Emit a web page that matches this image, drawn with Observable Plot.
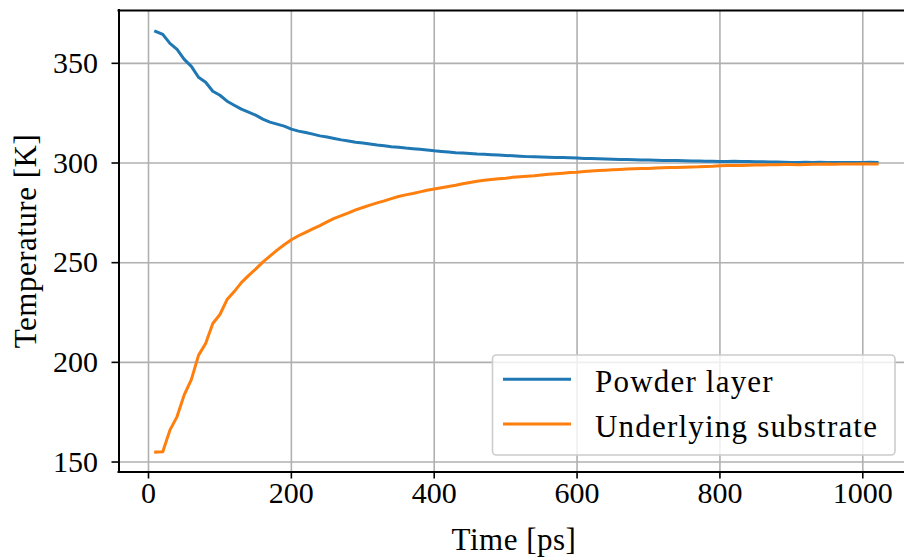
<!DOCTYPE html>
<html>
<head>
<meta charset="utf-8">
<script src="https://cdn.jsdelivr.net/npm/d3@7"></script>
<script src="https://cdn.jsdelivr.net/npm/@observablehq/plot@0.6"></script>
<style>
  html, body { margin: 0; padding: 0; background: white; }
  #chart { width: 904px; height: 558px; position: relative; }
</style>
</head>
<body>
<div id="chart"></div>
<script>
const times = [10,20,30,40,50,60,70,80,90,100,110,120,130,140,150,160,170,180,190,200,
  210,220,230,240,250,260,270,280,290,300,310,320,330,340,350,360,370,380,390,400,
  410,420,430,440,450,460,470,480,490,500,510,520,530,540,550,560,570,580,590,600,
  610,620,630,640,650,660,670,680,690,700,710,720,730,740,750,760,770,780,790,800,
  810,820,830,840,850,860,870,880,890,900,910,920,930,940,950,960,970,980,990,1000,
  1010,1020];
const powder = [366,364.5,360,357,352,348.5,343,340.5,336,334,331,329,327,325.5,324,322,320.5,319.5,318.5,317,
  316,315.3,314.5,313.6,313,312.3,311.6,311,310.4,310,309.5,309,308.6,308.2,307.9,307.5,307.2,306.9,306.5,306.1,
  305.8,305.5,305.2,305,304.8,304.5,304.4,304.2,304,303.8,303.6,303.4,303.2,303.1,303,302.9,302.8,302.7,302.6,302.5,
  302.3,302.2,302.1,302,301.9,301.8,301.7,301.6,301.5,301.5,301.4,301.3,301.3,301.2,301.1,301,301,300.9,300.9,300.8,
  300.8,300.9,300.7,300.7,300.6,300.6,300.5,300.5,300.4,300.3,300.3,300.4,300.3,300.4,300.3,300.2,300.3,300.2,300.3,300.3,
  300.4,300.3];
const substrate = [155,155.2,166,172.8,183.7,191.3,203.5,209.5,219.5,224,231.5,235.5,240,243.5,246.8,250.3,253.3,256.3,259,261.5,
  263.5,265.2,267,268.6,270.5,272.2,273.6,275,276.5,277.7,278.9,280,281,282.1,283.2,284,284.7,285.5,286.3,287,
  287.6,288.2,288.8,289.6,290.2,290.8,291.3,291.7,292.1,292.4,292.8,293.1,293.4,293.6,294,294.3,294.6,294.9,295.2,295.4,
  295.7,296,296.2,296.4,296.6,296.8,297,297.1,297.2,297.3,297.5,297.6,297.7,297.8,297.9,298,298.1,298.3,298.4,298.6,
  298.7,298.7,298.8,298.9,299,299,299.1,299.1,299.2,299.2,299.1,299.3,299.4,299.4,299.5,299.4,299.5,299.5,299.5,299.6,
  299.5,299.5];
const seriesNames = ["Powder layer", "Underlying substrate"];
const seriesColors = ["#1f77b4", "#ff7f0e"];
const xTicks = [0, 200, 400, 600, 800, 1000];
const yTicks = [150, 200, 250, 300, 350];
const xDomain = [-41.3, 1058.4];
const yDomain = [145, 376.5];
const xLabel = "Time [ps]";
const yLabel = "Temperature [K]";

const rows = times.flatMap((t, i) => [
  {t, T: powder[i], s: seriesNames[0]},
  {t, T: substrate[i], s: seriesNames[1]}
]);

const W = 904, H = 558, mT = 10, mB = 86.5, mL = 118.5, mR = 0;
const font = "'Liberation Serif', 'DejaVu Serif', serif";

const svg = Plot.plot({
  width: W, height: H,
  marginTop: mT, marginBottom: mB, marginLeft: mL, marginRight: mR,
  style: {fontFamily: font, fontSize: "30px", background: "white", color: "black", overflow: "visible"},
  x: {domain: xDomain},
  y: {domain: yDomain},
  color: {domain: seriesNames, range: seriesColors},
  marks: [
    Plot.gridX(xTicks, {stroke: "#b0b0b0", strokeOpacity: 1, strokeWidth: 1.6}),
    Plot.gridY(yTicks, {stroke: "#b0b0b0", strokeOpacity: 1, strokeWidth: 1.6}),
    Plot.line(rows, {x: "t", y: "T", stroke: "s", z: "s", strokeWidth: 3, strokeLinejoin: "round", strokeLinecap: "square"}),
    Plot.ruleY([yDomain[0], yDomain[1]], {stroke: "black", strokeWidth: 2, strokeLinecap: "square"}),
    Plot.ruleX([xDomain[0]], {stroke: "black", strokeWidth: 2, strokeLinecap: "square"}),
    Plot.axisX(xTicks, {tickSize: 7, tickPadding: 2.5, label: null, tickFormat: d => String(d), stroke: "black", strokeWidth: 1.6, fill: "black", fontSize: 30}),
    Plot.axisY(yTicks, {tickSize: 7, tickPadding: 14, label: null, tickFormat: d => String(d), stroke: "black", strokeWidth: 1.6, fill: "black", fontSize: 30})
  ]
});

document.getElementById("chart").appendChild(svg);

const s = d3.select(svg);
// axis labels
s.append("text")
  .attr("x", 514).attr("y", 550)
  .attr("text-anchor", "middle")
  .attr("font-family", font).attr("font-size", 31)
  .attr("letter-spacing", "0.5px")
  .attr("fill", "black")
  .text(xLabel);
s.append("text")
  .attr("transform", "translate(36,241) rotate(-90)")
  .attr("text-anchor", "middle")
  .attr("font-family", font).attr("font-size", 31)
  .attr("letter-spacing", "0.5px")
  .attr("fill", "black")
  .text(yLabel);

// legend
const lg = s.append("g");
lg.append("rect")
  .attr("x", 492.5).attr("y", 355).attr("width", 402.5).attr("height", 100)
  .attr("rx", 4).attr("fill", "white").attr("fill-opacity", 0.8)
  .attr("stroke", "#cccccc").attr("stroke-width", 1.6);
seriesNames.forEach((name, i) => {
  const cy = 379.3 + i * 44.7;
  lg.append("line")
    .attr("x1", 503).attr("x2", 571).attr("y1", cy).attr("y2", cy)
    .attr("stroke", seriesColors[i]).attr("stroke-width", 3);
  lg.append("text")
    .attr("x", 595).attr("y", cy + 12.5)
    .attr("text-anchor", "start")
    .attr("font-family", font).attr("font-size", 31)
    .attr("letter-spacing", "1.2px")
    .attr("fill", "black")
    .text(name);
});
</script>
</body>
</html>
